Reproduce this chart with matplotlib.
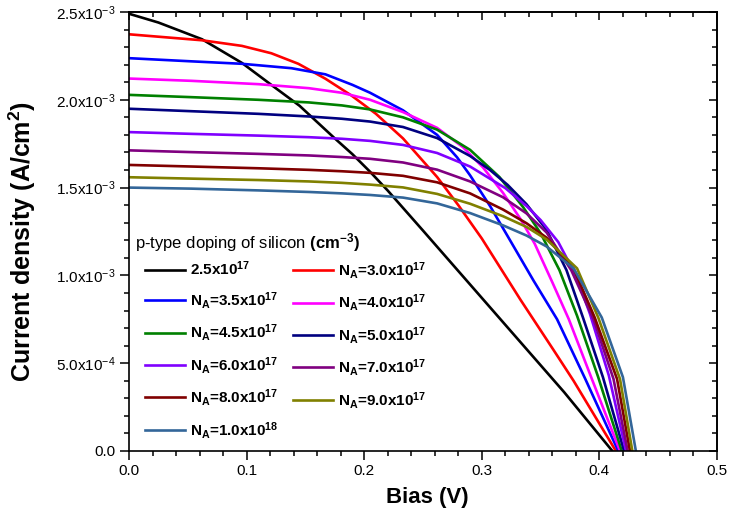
#!/usr/bin/env python3
"""J-V curves of the cell for several p-type doping levels of the silicon."""
import matplotlib
matplotlib.use("Agg")
import matplotlib.pyplot as plt
from matplotlib.ticker import FixedLocator, FixedFormatter, MultipleLocator

plt.rcParams["font.family"] = ["Liberation Sans", "DejaVu Sans"]
plt.rcParams["mathtext.fontset"] = "custom"
plt.rcParams["mathtext.rm"] = "Liberation Sans"
plt.rcParams["mathtext.it"] = "Liberation Sans:italic"
plt.rcParams["mathtext.bf"] = "Liberation Sans:bold"

# bias (V) and current density (units of 1e-3 A/cm2)
V_25 = [0, 0.025, 0.062, 0.096, 0.124, 0.145, 0.175, 0.19, 0.205, 0.22, 0.25,
        0.28, 0.31, 0.34, 0.37, 0.411]
J_25 = [2.49, 2.44, 2.345, 2.21, 2.07, 1.966, 1.78, 1.69, 1.59, 1.483, 1.255,
        1.025, 0.795, 0.565, 0.335, 0.0]

V_30 = [0, 0.062, 0.096, 0.121, 0.144, 0.167, 0.189, 0.21, 0.233, 0.262, 0.28,
        0.3, 0.333, 0.361, 0.378, 0.414]
J_30 = [2.373, 2.339, 2.307, 2.265, 2.205, 2.12, 2.025, 1.92, 1.78, 1.56, 1.4,
        1.21, 0.86, 0.575, 0.40, 0.0]

V_35 = [0, 0.053, 0.096, 0.138, 0.167, 0.19, 0.205, 0.233, 0.262, 0.279, 0.29,
        0.307, 0.324, 0.344, 0.364, 0.388, 0.416]
J_35 = [2.237, 2.219, 2.205, 2.18, 2.145, 2.085, 2.04, 1.94, 1.8, 1.672, 1.57,
        1.395, 1.2, 0.97, 0.75, 0.41, 0.0]

V_40 = [0, 0.053, 0.11, 0.153, 0.181, 0.205, 0.233, 0.262, 0.284, 0.301, 0.318,
        0.333, 0.345, 0.36, 0.374, 0.393, 0.4175]
J_40 = [2.121, 2.108, 2.089, 2.066, 2.04, 2.0, 1.93, 1.84, 1.73, 1.615, 1.47,
        1.32, 1.18, 0.96, 0.75, 0.42, 0.0]

V_45 = [0, 0.053, 0.11, 0.153, 0.181, 0.205, 0.233, 0.262, 0.29, 0.315, 0.335,
        0.35, 0.366, 0.381, 0.399, 0.419]
J_45 = [2.028, 2.015, 2.0, 1.985, 1.968, 1.945, 1.9, 1.83, 1.715, 1.56, 1.39,
        1.24, 1.03, 0.77, 0.42, 0.0]

V_50 = [0, 0.053, 0.11, 0.153, 0.181, 0.205, 0.233, 0.262, 0.29, 0.307, 0.322,
        0.338, 0.355, 0.372, 0.386, 0.403, 0.421]
J_50 = [1.949, 1.935, 1.92, 1.905, 1.892, 1.876, 1.845, 1.782, 1.68, 1.6, 1.515,
        1.405, 1.26, 1.03, 0.76, 0.42, 0.0]

V_60 = [0, 0.053, 0.11, 0.153, 0.181, 0.205, 0.233, 0.262, 0.29, 0.32, 0.338,
        0.35, 0.365, 0.38, 0.392, 0.408, 0.4226]
J_60 = [1.816, 1.806, 1.796, 1.787, 1.778, 1.766, 1.743, 1.697, 1.62, 1.497, 1.395,
        1.315, 1.19, 1.0, 0.78, 0.43, 0.0]

V_70 = [0, 0.053, 0.11, 0.153, 0.181, 0.205, 0.233, 0.262, 0.29, 0.318, 0.338,
        0.355, 0.376, 0.395, 0.412, 0.424]
J_70 = [1.712, 1.702, 1.692, 1.683, 1.674, 1.664, 1.643, 1.602, 1.535, 1.445, 1.353,
        1.245, 1.03, 0.75, 0.41, 0.0]

V_80 = [0, 0.053, 0.11, 0.153, 0.181, 0.205, 0.233, 0.262, 0.29, 0.318, 0.338,
        0.355, 0.378, 0.396, 0.415, 0.426]
J_80 = [1.629, 1.62, 1.61, 1.601, 1.593, 1.584, 1.567, 1.53, 1.467, 1.375, 1.297,
        1.215, 1.04, 0.76, 0.41, 0.0]

V_90 = [0, 0.053, 0.11, 0.153, 0.181, 0.205, 0.233, 0.262, 0.29, 0.318, 0.338,
        0.355, 0.381, 0.399, 0.4175, 0.428]
J_90 = [1.559, 1.551, 1.543, 1.535, 1.527, 1.517, 1.501, 1.464, 1.408, 1.337, 1.276,
        1.205, 1.04, 0.76, 0.41, 0.0]

V_100 = [0, 0.053, 0.11, 0.153, 0.181, 0.205, 0.233, 0.262, 0.29, 0.318, 0.338,
         0.355, 0.378, 0.402, 0.42, 0.431]
J_100 = [1.5, 1.494, 1.484, 1.475, 1.467, 1.458, 1.443, 1.41, 1.355, 1.285, 1.227,
         1.165, 1.04, 0.76, 0.42, 0.0]

SERIES = [(V_25, J_25), (V_30, J_30), (V_35, J_35), (V_40, J_40), (V_45, J_45),
          (V_50, J_50), (V_60, J_60), (V_70, J_70), (V_80, J_80), (V_90, J_90),
          (V_100, J_100)]

DOPING = ["2.5", "3.0", "3.5", "4.0", "4.5", "5.0", "6.0", "7.0", "8.0", "9.0", "1.0"]
EXPONENT = ["17"] * 10 + ["18"]
COLORS = ["#000000", "#ff0000", "#0000ff", "#ff00ff", "#008000", "#000080",
          "#8000ff", "#800080", "#800000", "#808000", "#336699"]

Y_TICKS = [0, 0.5e-3, 1.0e-3, 1.5e-3, 2.0e-3, 2.5e-3]
Y_TICK_LABELS = ["0.0", r"5.0x10$^{-4}$", r"1.0x10$^{-3}$", r"1.5x10$^{-3}$",
                 r"2.0x10$^{-3}$", r"2.5x10$^{-3}$"]


def label_for(i):
    head = "" if i == 0 else r"N$_\mathbf{A}$="
    return head + DOPING[i] + "x10" + r"$^{\mathbf{" + EXPONENT[i] + "}}$"


fig = plt.figure(figsize=(7.36, 5.17), dpi=100)
ax = fig.add_axes([0.1753, 0.1277, 0.9742 - 0.1753, 0.9768 - 0.1277])

lines = []
for i, ((v, j), c) in enumerate(zip(SERIES, COLORS)):
    (ln,) = ax.plot(v, [x * 1e-3 for x in j], color=c, lw=1.9,
                    solid_joinstyle="round", label=label_for(i))
    lines.append(ln)

ax.set_xlim(0, 0.5)
ax.set_ylim(0, 2.5e-3)

ax.xaxis.set_major_locator(MultipleLocator(0.1))
ax.xaxis.set_minor_locator(MultipleLocator(0.02))
ax.yaxis.set_major_locator(FixedLocator(Y_TICKS))
ax.yaxis.set_major_formatter(FixedFormatter(Y_TICK_LABELS))
ax.yaxis.set_minor_locator(MultipleLocator(1e-4))
ax.xaxis.set_major_formatter(plt.FuncFormatter(lambda x, p: f"{x:.1f}"))

ax.tick_params(which="both", direction="out", labelsize=11, width=1.1)
ax.tick_params(which="major", length=6.5, pad=3)
ax.tick_params(which="minor", length=3.6)

top = ax.secondary_xaxis("top")
top.xaxis.set_major_locator(MultipleLocator(0.1))
top.xaxis.set_minor_locator(MultipleLocator(0.02))
top.tick_params(which="both", direction="in", labeltop=False, width=1.1)
top.tick_params(which="major", length=6)
top.tick_params(which="minor", length=3.4)

right = ax.secondary_yaxis("right")
right.yaxis.set_major_locator(FixedLocator(Y_TICKS))
right.yaxis.set_minor_locator(MultipleLocator(1e-4))
right.tick_params(which="both", direction="in", labelright=False, width=1.1)
right.tick_params(which="major", length=6)
right.tick_params(which="minor", length=3.4)

for a in (ax, top, right):
    for s in a.spines.values():
        s.set_linewidth(1.2)

ax.set_xlabel("Bias (V)", fontsize=16, fontweight="bold")
ax.set_ylabel(r"Current density (A/cm$^\mathbf{2}$)", fontsize=18, fontweight="bold")
ax.xaxis.set_label_coords(0.507, -0.081)
ax.yaxis.set_label_coords(-0.155, 0.477)

# legend title drawn as plain text, entries filled column-wise
ax.text(0.010, 0.474, r"p-type doping of silicon $\mathbf{(cm^{-3})}$",
        transform=ax.transAxes, ha="left", va="center", fontsize=12)
order = [0, 2, 4, 6, 8, 10, 1, 3, 5, 7, 9]
leg = ax.legend([lines[k] for k in order], [lines[k].get_label() for k in order],
                ncol=2, loc="upper left", bbox_to_anchor=(0.027, 0.4355),
                frameon=False, prop={"weight": "bold", "size": 11},
                handlelength=2.6, handletextpad=0.33, columnspacing=1.0,
                labelspacing=0.75, borderaxespad=0.0, borderpad=0.0)

fig.savefig("out.png", dpi=100)
